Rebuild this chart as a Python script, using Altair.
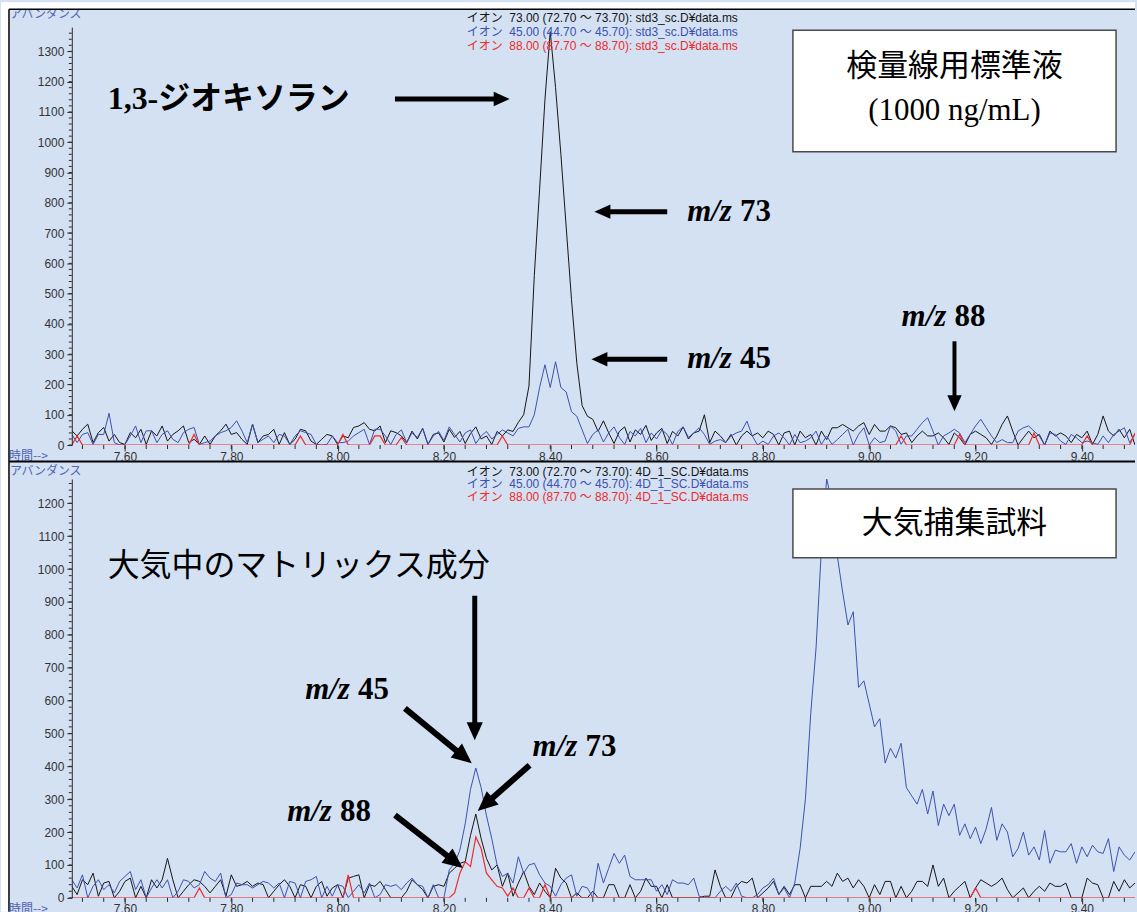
import math
import altair as alt
import pandas as pd

# ---------------------------------------------------------------------------
# Scan grid (retention time, minutes)
# ---------------------------------------------------------------------------
T_START = 7.50
T_STEP = 0.01
N_SCANS = 201
times = [round(T_START + i * T_STEP, 2) for i in range(N_SCANS)]

# ---------------------------------------------------------------------------
# Extracted ion chromatograms - calibration standard (std3_sc, 1000 ng/mL)
# ---------------------------------------------------------------------------
std_mz73 = [
    47, 30, 52, 69, 8, 41, 58, 13, 35, 8, 2, 41, 24, 52, 2, 47, 30, 63, 13, 35,
    47, 63, 8, 19, 2, 30, 2, 30, 47, 69, 35, 41, 19, 2, 69, 8, 30, 35, 52, 2,
    41, 2, 19, 52, 47, 13, 2, 19, 35, 30, 2, 30, 24, 58, 63, 74, 52, 47, 63, 8,
    47, 41, 30, 8, 46, 20, 55, 2, 35, 40, 10, 52, 25, 45, 5, 38, 60, 20, 30, 2,
    45, 30, 50, 45, 75, 100, 195, 560, 845, 1140, 1365, 1180, 960, 720, 480, 270, 130, 95, 85, 45,
    80, 40, 5, 45, 60, 10, 50, 35, 65, 15, 40, 55, 5, 45, 30, 60, 20, 40, 46, 100,
    8, 46, 30, 8, 35, 0, 30, 46, 30, 40, 24, 46, 35, 0, 40, 46, 0, 46, 24, 35,
    0, 46, 18, 57, 57, 68, 57, 46, 63, 74, 35, 68, 46, 46, 63, 57, 35, 40, 8, 30,
    46, 30, 30, 40, 24, 2, 40, 24, 0, 35, 46, 35, 24, 2, 30, 68, 96, 46, 0, 24,
    46, 24, 35, 0, 46, 30, 40, 30, 8, 35, 24, 46, 2, 35, 96, 46, 30, 52, 24, 52,
    0,
]
std_mz45 = [
    35, 8, 35, 41, 2, 35, 35, 105, 8, 0, 2, 30, 63, 8, 47, 47, 8, 35, 47, 19,
    8, 41, 52, 58, 2, 8, 13, 30, 41, 47, 58, 80, 47, 8, 69, 8, 19, 30, 8, 35,
    30, 2, 30, 47, 41, 35, 2, 0, 2, 30, 8, 8, 13, 30, 41, 52, 2, 52, 52, 30,
    2, 35, 50, 8, 40, 25, 55, 2, 30, 45, 15, 60, 35, 10, 40, 50, 5, 30, 45, 20,
    35, 50, 40, 30, 55, 60, 60, 100, 190, 265, 190, 275, 190, 175, 110, 95, 50, 5, 35, 50,
    10, 40, 60, 25, 2, 45, 30, 55, 8, 40, 20, 50, 35, 2, 45, 60, 25, 40, 57, 35,
    2, 13, 18, 8, 30, 40, 46, 79, 30, 0, 13, 2, 30, 40, 24, 0, 35, 8, 13, 24,
    46, 2, 30, 2, 18, 35, 52, 0, 35, 57, 0, 24, 8, 13, 63, 46, 2, 30, 30, 52,
    74, 90, 46, 0, 30, 40, 52, 40, 8, 35, 63, 85, 57, 30, 8, 18, 8, 8, 46, 57,
    63, 46, 30, 0, 40, 35, 13, 2, 35, 24, 8, 13, 8, 2, 30, 8, 35, 46, 57, 8,
    35,
]
std_mz88 = [
    0, 30, 0, 0, 0, 0, 0, 0, 0, 0, 0, 0, 0, 0, 0, 0, 0, 0, 0, 0,
    0, 0, 0, 35, 0, 0, 0, 0, 0, 0, 0, 0, 0, 0, 0, 0, 0, 0, 0, 0,
    0, 0, 0, 30, 0, 0, 0, 0, 0, 0, 0, 35, 0, 0, 0, 0, 0, 30, 30, 0,
    0, 0, 25, 0, 0, 0, 0, 0, 0, 0, 0, 0, 0, 0, 0, 0, 0, 0, 0, 0,
    0, 30, 0, 0, 0, 0, 0, 0, 0, 0, 0, 0, 0, 0, 0, 0, 0, 0, 0, 0,
    0, 0, 0, 0, 0, 0, 0, 0, 0, 0, 0, 0, 0, 0, 0, 0, 0, 0, 0, 0,
    0, 0, 0, 0, 0, 0, 0, 0, 0, 0, 0, 0, 0, 0, 0, 0, 0, 0, 0, 0,
    0, 0, 0, 0, 0, 0, 0, 0, 0, 0, 0, 0, 0, 0, 0, 0, 30, 0, 0, 0,
    0, 0, 0, 0, 0, 0, 0, 35, 0, 0, 0, 0, 0, 0, 0, 0, 0, 0, 0, 0,
    0, 40, 0, 0, 0, 0, 0, 0, 0, 0, 0, 30, 0, 0, 0, 0, 0, 0, 0, 0,
    40,
]

# ---------------------------------------------------------------------------
# Extracted ion chromatograms - air sample (4D_1_SC)
# ---------------------------------------------------------------------------
air_mz73 = [
    35, 10, 55, 40, 75, 5, 45, 50, 0, 20, 50, 60, 0, 35, 0, 55, 30, 55, 120, 55,
    0, 20, 40, 55, 50, 35, 15, 35, 55, 5, 70, 35, 40, 50, 35, 45, 40, 0, 20, 40,
    55, 35, 0, 40, 35, 0, 35, 50, 5, 30, 40, 0, 60, 65, 70, 0, 40, 35, 50, 25,
    0, 0, 0, 20, 55, 40, 25, 0, 35, 40, 35, 75, 90, 105, 110, 190, 255, 180, 120, 85,
    100, 35, 75, 5, 45, 80, 35, 10, 45, 20, 0, 90, 60, 45, 0, 15, 0, 0, 20, 0,
    0, 40, 40, 0, 0, 40, 0, 20, 60, 35, 35, 0, 40, 0, 0, 0, 0, 0, 0, 5,
    5, 85, 35, 0, 0, 35, 50, 45, 60, 0, 15, 30, 50, 10, 35, 10, 40, 40, 0, 35,
    35, 35, 50, 35, 75, 50, 60, 30, 55, 35, 0, 40, 10, 50, 50, 0, 35, 0, 20, 50,
    50, 35, 100, 35, 60, 0, 20, 35, 50, 0, 30, 55, 45, 35, 45, 60, 25, 0, 15, 30,
    0, 20, 35, 20, 45, 35, 35, 45, 0, 0, 0, 60, 45, 40, 0, 0, 50, 20, 55, 30,
    45,
]
air_mz45 = [
    55, 30, 70, 0, 35, 55, 25, 40, 15, 50, 65, 80, 25, 55, 0, 30, 55, 30, 55, 0,
    20, 55, 50, 30, 40, 80, 60, 50, 75, 0, 10, 45, 40, 40, 30, 40, 50, 45, 30, 45,
    0, 50, 45, 0, 50, 55, 65, 0, 35, 5, 40, 35, 0, 20, 40, 15, 45, 0, 10, 40,
    35, 40, 25, 45, 60, 40, 35, 0, 40, 0, 0, 85, 105, 145, 225, 330, 395, 335, 250, 180,
    100, 65, 75, 45, 125, 75, 100, 105, 70, 45, 35, 5, 40, 60, 70, 5, 35, 30, 0, 105,
    45, 90, 135, 105, 130, 65, 55, 55, 55, 55, 20, 40, 10, 55, 45, 45, 40, 60, 5, 0,
    0, 0, 20, 35, 20, 45, 5, 0, 0, 10, 30, 40, 60, 10, 30, 0, 45, 150, 300, 560,
    760, 1060, 1275, 1200, 1040, 930, 830, 870, 640, 660, 590, 520, 545, 410, 455, 425, 470, 335, 310, 285,
    330, 255, 325, 220, 285, 250, 285, 190, 225, 180, 215, 165, 210, 275, 175, 225, 200, 125, 150, 200,
    130, 155, 115, 205, 105, 145, 140, 140, 165, 105, 155, 125, 160, 140, 135, 180, 80, 155, 130, 115,
    140,
]
air_mz88 = [
    0, 0, 0, 0, 0, 0, 0, 0, 0, 0, 0, 0, 0, 0, 0, 0, 0, 0, 0, 0,
    0, 0, 0, 0, 30, 0, 0, 0, 0, 0, 0, 0, 0, 0, 0, 0, 0, 0, 0, 0,
    0, 0, 0, 0, 0, 0, 0, 0, 0, 0, 0, 0, 70, 0, 0, 0, 0, 0, 0, 0,
    0, 0, 0, 0, 0, 0, 0, 0, 0, 0, 0, 0, 15, 75, 110, 95, 185, 150, 75, 55,
    35, 30, 5, 30, 0, 0, 30, 0, 0, 40, 0, 0, 0, 0, 0, 0, 0, 0, 0, 0,
    0, 0, 0, 0, 0, 0, 0, 0, 0, 0, 0, 0, 0, 0, 0, 0, 0, 0, 0, 0,
    0, 0, 0, 0, 0, 0, 0, 0, 0, 0, 0, 0, 0, 0, 0, 0, 0, 0, 0, 0,
    0, 0, 0, 0, 0, 0, 0, 0, 0, 0, 0, 0, 0, 0, 0, 0, 0, 0, 0, 0,
    0, 0, 0, 0, 0, 0, 0, 0, 0, 0, 30, 0, 0, 0, 0, 0, 0, 0, 0, 0,
    0, 0, 0, 0, 0, 0, 0, 0, 0, 0, 0, 0, 0, 0, 0, 0, 0, 0, 0, 0,
    0,
]

# ---------------------------------------------------------------------------
# Axis ticks
# ---------------------------------------------------------------------------
x_major = [7.60, 7.80, 8.00, 8.20, 8.40, 8.60, 8.80, 9.00, 9.20, 9.40]
x_minor = [round(7.52 + 0.04 * i, 2) for i in range(50)]
y_major_std = list(range(0, 1301, 100))
y_major_air = list(range(0, 1201, 100))

# ---------------------------------------------------------------------------
# Header texts
# ---------------------------------------------------------------------------
SP = "\u00a0"
ion_rows = [("73.00", "72.70", "73.70"), ("45.00", "44.70", "45.70"), ("88.00", "87.70", "88.70")]

# ---------------------------------------------------------------------------
# Styling
# ---------------------------------------------------------------------------
BG = "#d4e1f3"
C73 = "#151515"
C45 = "#3c50b0"
C88 = "#ee2b2b"
LABEL_BLUE = "#4f63b5"
AXIS_INK = "#2a2a2a"
UI_FONT = "Liberation Sans, Noto Sans CJK JP"
SERIF = "Liberation Serif, Noto Sans CJK JP"
CJK = "Noto Sans CJK JP"
W = 1066
ONE = pd.DataFrame({"k": [0]})
HEAD_SHAPE = "M0,0L0.9,2L-0.9,2Z"


def text(label, x, y, size, color="black", font=SERIF, weight="normal",
         style="normal", align="left", baseline="middle"):
    return alt.Chart(ONE).mark_text(
        text=label, font=font, fontSize=size, fontWeight=weight, fontStyle=style,
        color=color, align=align, baseline=baseline,
    ).encode(x=alt.value(x), y=alt.value(y))


def mz_label(num, x, y, size=31):
    return [text("m/z", x, y, size, weight="bold", style="italic"),
            text(num, x + 53, y, size, weight="bold")]


def arrow(x1, y1, x2, y2, width=5, head=16):
    dx, dy = x2 - x1, y2 - y1
    length = math.hypot(dx, dy)
    ux, uy = dx / length, dy / length
    bx, by = x2 - ux * (head - 3), y2 - uy * (head - 3)
    ang = math.degrees(math.atan2(dx, -dy)) % 360
    shaft = alt.Chart(ONE).mark_rule(color="black", strokeWidth=width).encode(
        x=alt.value(x1), y=alt.value(y1), x2=alt.value(bx), y2=alt.value(by))
    tip = alt.Chart(ONE).mark_point(
        shape=HEAD_SHAPE, filled=True, size=head * head, angle=ang,
        color="black", opacity=1, strokeWidth=0,
    ).encode(x=alt.value(x2), y=alt.value(y2))
    return [shaft, tip]


def box(x, y, x2, y2):
    return alt.Chart(ONE).mark_rect(fill="white", stroke="#4a4a4a", strokeWidth=1.5).encode(
        x=alt.value(x), y=alt.value(y), x2=alt.value(x2), y2=alt.value(y2))


def rule(x, y, x2, y2, width=1.5, color="black"):
    return alt.Chart(ONE).mark_rule(color=color, strokeWidth=width).encode(
        x=alt.value(x), y=alt.value(y), x2=alt.value(x2), y2=alt.value(y2))


def panel_layers(v73, v45, v88, y_max, height, y_major, label_pad, data_file,
                 header_y, abund_y):
    df = pd.DataFrame({"t": times, "m73": v73, "m45": v45, "m88": v88})
    xs = alt.Scale(domain=[7.5, 9.5], nice=False, zero=False)
    ys = alt.Scale(domain=[0, y_max], nice=False, zero=False)
    x_axis = alt.Axis(values=x_major, format=".2f", domain=False, grid=False, tickSize=6,
                      tickColor=AXIS_INK, labelFont=UI_FONT, labelFontSize=12,
                      labelColor="#333333", labelPadding=label_pad, title="",
                      labelFlush=False, labelOverlap=False, zindex=1)
    y_axis = alt.Axis(values=y_major, format="d", domain=True, domainColor=AXIS_INK,
                      grid=False, tickSize=5, tickColor=AXIS_INK, labelFont=UI_FONT,
                      labelFontSize=12, labelColor="#333333", labelPadding=3, title="",
                      labelOverlap=False, labelFlush=False, zindex=1)

    def xenc():
        return alt.X("t:Q", scale=xs, axis=x_axis)

    def yenc(field):
        return alt.Y(f"{field}:Q", scale=ys, axis=y_axis)

    base = alt.Chart(df)
    line73 = base.mark_line(color=C73, strokeWidth=1, clip=True).encode(
        x=xenc(), y=yenc("m73"))
    line45 = base.mark_line(color=C45, strokeWidth=1, clip=True).encode(
        x=xenc(), y=yenc("m45"))
    line88 = base.mark_line(color=C88, strokeWidth=1.2, clip=True).encode(
        x=xenc(), y=yenc("m88"))

    y_minor = alt.Chart(pd.DataFrame({"m73": list(range(0, y_max, 20))})).mark_rule(
        color=AXIS_INK, strokeWidth=1).encode(
        y=yenc("m73"), x=alt.value(-3), x2=alt.value(0))
    x_min = alt.Chart(pd.DataFrame({"t": x_minor})).mark_rule(
        color=AXIS_INK, strokeWidth=1).encode(
        x=xenc(), y=alt.value(height), y2=alt.value(height + 4))

    layers = [line73, line45, line88, y_minor, x_min]
    for (ion, lo, hi), col, dy in zip(ion_rows, [C73, C45, C88], header_y):
        label = f"イオン{SP}{SP}{ion}{SP}({lo}{SP}～{SP}{hi}):{SP}{data_file}"
        layers.append(text(label, 396, dy, 12, color=col, font=UI_FONT))
    layers.append(text("アバンダンス", -62, abund_y, 12, color=LABEL_BLUE, font=CJK,
                       baseline="top"))
    layers.append(text("時間-->", -63, height + 6, 12, color=LABEL_BLUE, font=CJK,
                       baseline="top"))
    return layers


# ---------------------------------------------------------------------------
# Upper panel: calibration standard
# ---------------------------------------------------------------------------
H_STD = 419
top_layers = panel_layers(std_mz73, std_mz45, std_mz88, 1380, H_STD, y_major_std, 1,
                          "std3_sc.D¥data.ms", [-9, 5, 19], -18)
top_layers += [
    alt.Chart(ONE).mark_rect(fill="white").encode(
        x=alt.value(-71), x2=alt.value(-63), y=alt.value(-25), y2=alt.value(887)),
    alt.Chart(ONE).mark_rect(fill="white").encode(
        x=alt.value(-71), x2=alt.value(W), y=alt.value(-25), y2=alt.value(-18)),
    rule(-63, -18, W, -18, 1.5),
    rule(-63, -18, -63, 887, 1.5),
    rule(-63, 435.5, W, 435.5, 2),
    text("1,3-ジオキソラン", 36, 72, 32, weight="bold"),
    *arrow(324, 72, 439, 72, 5, 16),
    *mz_label("73", 617, 185),
    *arrow(597, 185, 524, 185, 5, 16),
    *mz_label("45", 617, 333),
    *arrow(597, 333, 521, 333, 5, 16),
    *mz_label("88", 832, 291),
    *arrow(885, 315, 885, 385, 4, 16),
    box(723, 3, 1047, 125),
    text("検量線用標準液", 885, 40, 31, font=CJK, align="center"),
    text("(1000 ng/mL)", 885, 84, 31, align="center"),
]
top = alt.layer(*top_layers).properties(width=W, height=H_STD)

# ---------------------------------------------------------------------------
# Lower panel: air sample
# ---------------------------------------------------------------------------
H_AIR = 420
bottom_layers = panel_layers(air_mz73, air_mz45, air_mz88, 1274, H_AIR, y_major_air, 0,
                             "4D_1_SC.D¥data.ms", [-7, 5, 18], -13)
bottom_layers += [
    box(723, 10, 1047, 79),
    text("大気捕集試料", 885, 45, 31, font=CJK, align="center"),
    text("大気中のマトリックス成分", 36, 87, 32, font=CJK),
    *arrow(404, 117, 404, 262, 5, 18),
    *mz_label("45", 234, 212),
    *arrow(334, 230, 401, 285, 6, 20),
    *mz_label("73", 462, 269),
    *arrow(459, 287, 407, 333, 6, 20),
    *mz_label("88", 216, 334),
    *arrow(324, 337, 392, 390, 6, 20),
]
bottom = alt.layer(*bottom_layers).properties(width=W, height=H_AIR)

chart = (
    alt.vconcat(top, bottom, spacing=34, bounds="flush")
    .properties(padding=0)
    .configure(background=BG)
    .configure_view(stroke="transparent")
)

chart.save("out.html", embed_options={"renderer": "svg", "actions": False})
